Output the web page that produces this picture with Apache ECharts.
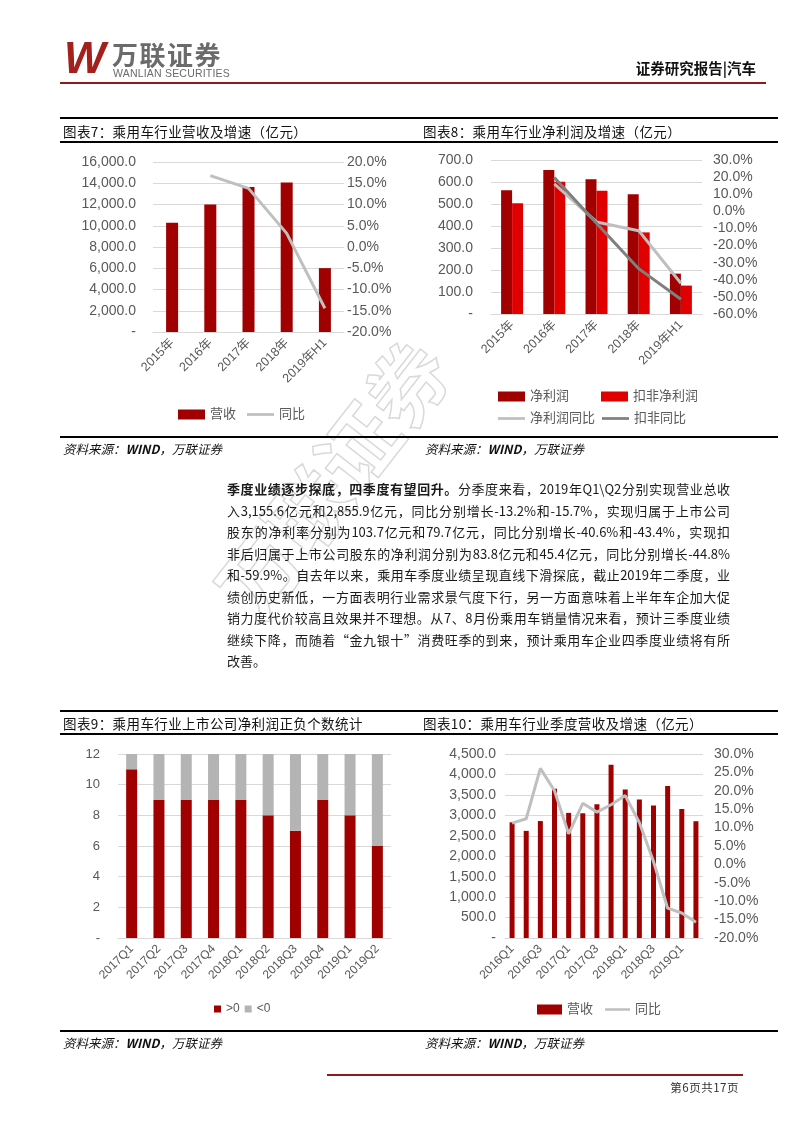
<!DOCTYPE html>
<html>
<head>
<meta charset="utf-8">
<script src="https://cdn.jsdelivr.net/npm/echarts/dist/echarts.min.js"></script>
<style>
  html, body { margin:0; padding:0; background:#fff; }
  body { width:802px; height:1133px; position:relative; overflow:hidden;
         font-family:'Noto Sans CJK SC','Liberation Sans',sans-serif; color:#111; }
  #chart { position:absolute; left:0; top:0; width:802px; height:1133px; }
  .abs { position:absolute; white-space:nowrap; }
  .hline { position:absolute; background:#000; }
  .title { position:absolute; font-size:13.5px; letter-spacing:0.4px; line-height:16px; color:#111; }
  .src { position:absolute; font-size:12.5px; font-style:italic; line-height:16px; color:#111; }
  .para { position:absolute; left:227px; width:503px; font-size:13px; line-height:21.5px; color:#1a1a1a; }
  .para div { text-align:justify; text-align-last:justify; height:21.5px; }
  .para div.last { text-align-last:left; }
  .wm { position:absolute; left:170px; top:435px; font-size:80px; font-weight:700; line-height:82px;
        color:transparent; -webkit-text-stroke:1.5px rgba(170,170,170,0.45);
        transform:rotate(-52deg); transform-origin:50% 50%; white-space:nowrap; }
</style>
</head>
<body>
<div id="chart"></div>

<!-- watermark -->
<div class="wm">万联证券</div>

<!-- header -->
<div class="abs" style="left:64px;top:36px;font:italic 900 44px 'Liberation Sans',sans-serif;color:#A3201C;line-height:44px;letter-spacing:-3px;">W</div>
<div class="abs" style="left:112px;top:40px;font-size:26px;font-weight:700;color:#6b6b6b;line-height:28px;letter-spacing:1.5px;">万联证券</div>
<div class="abs" style="left:113px;top:68px;font:10.5px 'Liberation Sans',sans-serif;color:#6b6b6b;line-height:11px;letter-spacing:0.2px;">WANLIAN SECURITIES</div>
<div class="abs" style="right:46px;top:59px;font-size:14.5px;font-weight:700;color:#111;line-height:17px;">证券研究报告|汽车</div>
<div class="hline" style="left:60px;top:82px;width:706px;height:2px;background:#8E1B1B;"></div>

<!-- chart 7/8 frame -->
<div class="hline" style="left:60px;top:117px;width:718px;height:2px;"></div>
<div class="hline" style="left:60px;top:141px;width:718px;height:2px;"></div>
<div class="title" style="left:63px;top:123px;">图表7：乘用车行业营收及增速（亿元）</div>
<div class="title" style="left:423px;top:123px;">图表8：乘用车行业净利润及增速（亿元）</div>
<div class="hline" style="left:60px;top:436px;width:718px;height:2px;"></div>
<div class="src" style="left:63px;top:441px;">资料来源：<b>WIND</b>，万联证券</div>
<div class="src" style="left:425px;top:441px;">资料来源：<b>WIND</b>，万联证券</div>

<!-- paragraph -->
<div class="para" style="top:478px;">
  <div><b>季度业绩逐步探底，四季度有望回升。</b>分季度来看，2019年Q1\Q2分别实现营业总收</div>
  <div>入3,155.6亿元和2,855.9亿元，同比分别增长-13.2%和-15.7%，实现归属于上市公司</div>
  <div>股东的净利率分别为103.7亿元和79.7亿元，同比分别增长-40.6%和-43.4%，实现扣</div>
  <div>非后归属于上市公司股东的净利润分别为83.8亿元和45.4亿元，同比分别增长-44.8%</div>
  <div>和-59.9%。自去年以来，乘用车季度业绩呈现直线下滑探底，截止2019年二季度，业</div>
  <div>绩创历史新低，一方面表明行业需求景气度下行，另一方面意味着上半年车企加大促</div>
  <div>销力度代价较高且效果并不理想。从7、8月份乘用车销量情况来看，预计三季度业绩</div>
  <div>继续下降，而随着“金九银十”消费旺季的到来，预计乘用车企业四季度业绩将有所</div>
  <div class="last">改善。</div>
</div>

<!-- chart 9/10 frame -->
<div class="hline" style="left:60px;top:710px;width:718px;height:2px;"></div>
<div class="hline" style="left:60px;top:733px;width:718px;height:2px;"></div>
<div class="title" style="left:63px;top:715px;">图表9：乘用车行业上市公司净利润正负个数统计</div>
<div class="title" style="left:423px;top:715px;">图表10：乘用车行业季度营收及增速（亿元）</div>
<div class="hline" style="left:60px;top:1030px;width:718px;height:2px;"></div>
<div class="src" style="left:63px;top:1035px;">资料来源：<b>WIND</b>，万联证券</div>
<div class="src" style="left:425px;top:1035px;">资料来源：<b>WIND</b>，万联证券</div>

<!-- footer -->
<div class="hline" style="left:327px;top:1074px;width:416px;height:2px;background:#8E1B1B;"></div>
<div class="abs" style="right:63px;top:1080px;font-size:11.5px;color:#333;line-height:14px;letter-spacing:0.5px;">第6页共17页</div>

<script>
// ---------- data ----------
const years = ['2015年', '2016年', '2017年', '2018年', '2019年H1'];
const revenue = [10280, 12000, 13650, 14060, 6011.5];
const revenueYoY = [null, 16.8, 13.8, 3.2, -14.4];

const netProfit = [563, 654, 613, 544, 183.4];
const netProfitDeducted = [503, 601, 560, 371, 129.2];
const netProfitYoY = [null, 16.1, -6.2, -11.3, -42.0];
const deductedYoY = [null, 19.8, -7.0, -33.5, -51.4];

const quarters9 = ['2017Q1', '2017Q2', '2017Q3', '2017Q4', '2018Q1', '2018Q2', '2018Q3', '2018Q4', '2019Q1', '2019Q2'];
const positiveCount = [11, 9, 9, 9, 9, 8, 7, 9, 8, 6];
const negativeCount = [1, 3, 3, 3, 3, 4, 5, 3, 4, 6];

const quarters10 = ['2016Q1', '2016Q2', '2016Q3', '2016Q4', '2017Q1', '2017Q2', '2017Q3', '2017Q4',
                    '2018Q1', '2018Q2', '2018Q3', '2018Q4', '2019Q1', '2019Q2'];
const quarterRevenue = [2830, 2620, 2860, 3650, 3060, 3050, 3270, 4240, 3630, 3390, 3240, 3720, 3155.6, 2855.9];
const quarterYoY = [11.2, 12.4, 26.1, 20.0, 8.3, 16.6, 14.2, 16.2, 18.7, 11.4, 0.8, -11.9, -13.2, -15.7];

// ---------- styles ----------
const FONT = "'Liberation Sans','Noto Sans CJK SC',sans-serif";
const GRAY = '#595959';
const GRID_LINE = '#D9D9D9';
const RED = '#A00000';
const RED2 = '#E00000';
const LGRAY = '#BFBFBF';
const DGRAY = '#7F7F7F';
const LINE_ICON = 'path://M0,0 L30,0 L30,3 L0,3 Z';

function fmtMoney(v) {
  return v === 0 ? '-' : v.toLocaleString('en-US', { minimumFractionDigits: 1, maximumFractionDigits: 1 });
}
function fmtPct(v) { return v.toFixed(1) + '%'; }
function fmtCount(v) { return v === 0 ? '-' : String(v); }

function catAxis(gridIndex, data, fontSize, interval) {
  return {
    gridIndex, type: 'category', data,
    axisLine: { lineStyle: { color: GRID_LINE } },
    axisTick: { show: false },
    axisLabel: { rotate: 45, fontSize, color: GRAY, fontFamily: FONT, margin: 9, interval: interval }
  };
}
function valAxis(gridIndex, min, max, interval, formatter, opts) {
  opts = opts || {};
  return {
    gridIndex, type: 'value', min, max, interval,
    position: opts.right ? 'right' : 'left',
    axisLine: { show: false }, axisTick: { show: false },
    axisLabel: { formatter, fontSize: opts.fontSize || 14, color: GRAY, fontFamily: FONT, margin: opts.margin },
    splitLine: opts.right ? { show: false } : { lineStyle: { color: GRID_LINE, width: 1 } }
  };
}

const legendText = { fontSize: 13, color: GRAY, fontFamily: FONT };

const option = {
  animation: false,
  grid: [
    { left: 153, top: 162, width: 191, height: 170 },
    { left: 491, top: 160, width: 211, height: 154 },
    { left: 118, top: 754, width: 273, height: 184 },
    { left: 505, top: 754, width: 198, height: 184 }
  ],
  xAxis: [
    catAxis(0, years, 12.5, 0),
    catAxis(1, years, 12.5, 0),
    catAxis(2, quarters9, 12, 0),
    catAxis(3, quarters10, 12, 1)
  ],
  yAxis: [
    valAxis(0, 0, 16000, 2000, fmtMoney, { margin: 17 }),
    valAxis(0, -20, 20, 5, fmtPct, { right: true, margin: 3 }),
    valAxis(1, 0, 700, 100, fmtMoney, { margin: 18 }),
    valAxis(1, -60, 30, 10, fmtPct, { right: true, margin: 11 }),
    valAxis(2, 0, 12, 2, fmtCount, { margin: 18, fontSize: 13 }),
    valAxis(3, 0, 4500, 500, fmtMoney, { margin: 9 }),
    valAxis(3, -20, 30, 5, fmtPct, { right: true, margin: 11 })
  ],
  legend: [
    { left: 173, top: 403, itemWidth: 27, itemHeight: 10, itemGap: 11, textStyle: legendText,
      data: [{ name: '营收', icon: 'rect' }, { name: '同比', icon: LINE_ICON }] },
    { left: 493, top: 385, itemWidth: 27, itemHeight: 10, itemGap: 32, textStyle: legendText,
      data: [{ name: '净利润', icon: 'rect' }, { name: '扣非净利润', icon: 'rect' }] },
    { left: 493, top: 407, itemWidth: 27, itemHeight: 10, itemGap: 7, textStyle: legendText,
      data: [{ name: '净利润同比', icon: LINE_ICON }, { name: '扣非同比', icon: LINE_ICON }] },
    { left: 209, top: 998, itemWidth: 7, itemHeight: 7, itemGap: 5, textStyle: { fontSize: 12, color: GRAY, fontFamily: FONT },
      data: [{ name: '>0', icon: 'rect' }, { name: '<0', icon: 'rect' }] },
    { left: 532, top: 998, itemWidth: 25, itemHeight: 10, itemGap: 12, textStyle: legendText,
      data: [{ name: '营收', icon: 'rect' }, { name: '同比', icon: LINE_ICON }] }
  ],
  series: [
    // chart 7
    { type: 'bar', name: '营收', xAxisIndex: 0, yAxisIndex: 0, data: revenue, barWidth: 12, itemStyle: { color: RED } },
    { type: 'line', name: '同比', xAxisIndex: 0, yAxisIndex: 1, data: revenueYoY, symbol: 'none',
      lineStyle: { color: LGRAY, width: 3 }, itemStyle: { color: LGRAY } },
    // chart 8
    { type: 'bar', name: '净利润', xAxisIndex: 1, yAxisIndex: 2, data: netProfit, barWidth: 11, barGap: '0%', itemStyle: { color: RED } },
    { type: 'bar', name: '扣非净利润', xAxisIndex: 1, yAxisIndex: 2, data: netProfitDeducted, barWidth: 11, barGap: '0%', itemStyle: { color: RED2 } },
    { type: 'line', name: '净利润同比', xAxisIndex: 1, yAxisIndex: 3, data: netProfitYoY, symbol: 'none',
      lineStyle: { color: LGRAY, width: 3 }, itemStyle: { color: LGRAY } },
    { type: 'line', name: '扣非同比', xAxisIndex: 1, yAxisIndex: 3, data: deductedYoY, symbol: 'none',
      lineStyle: { color: DGRAY, width: 3 }, itemStyle: { color: DGRAY } },
    // chart 9
    { type: 'bar', name: '>0', stack: 'cnt', xAxisIndex: 2, yAxisIndex: 4, data: positiveCount, barWidth: 11, itemStyle: { color: RED } },
    { type: 'bar', name: '<0', stack: 'cnt', xAxisIndex: 2, yAxisIndex: 4, data: negativeCount, barWidth: 11, itemStyle: { color: '#B4B4B4' } },
    // chart 10
    { type: 'bar', name: '营收', xAxisIndex: 3, yAxisIndex: 5, data: quarterRevenue, barWidth: 5, itemStyle: { color: RED } },
    { type: 'line', name: '同比', xAxisIndex: 3, yAxisIndex: 6, data: quarterYoY, symbol: 'none',
      lineStyle: { color: LGRAY, width: 3 }, itemStyle: { color: LGRAY } }
  ]
};

const chart = echarts.init(document.getElementById('chart'), null, { renderer: 'canvas' });
chart.setOption(option);
</script>
</body>
</html>
